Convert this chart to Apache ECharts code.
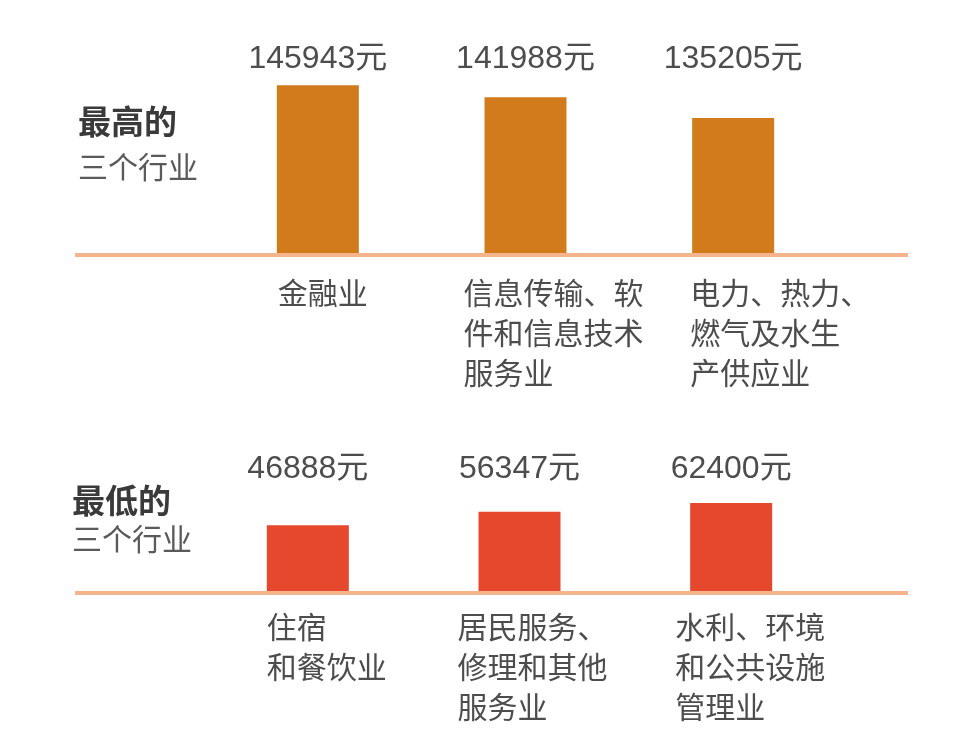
<!DOCTYPE html>
<html>
<head>
    <meta charset="utf-8">
    <title>行业平均工资</title>
    <script src="https://cdn.jsdelivr.net/npm/echarts@6/dist/echarts.min.js"></script>
    <style>
        * { margin: 0; padding: 0; }
        body { background: #fff; }
    </style>
</head>
<body>
    <div id="main" style="width: 960px; height: 732px;"></div>
    <script type="text/javascript">
        // 最高的三个行业
        var highNames = ['金融业', '信息传输、软\n件和信息技术\n服务业', '电力、热力、\n燃气及水生\n产供应业'];
        var highValues = [145943, 141988, 135205];
        // 最低的三个行业
        var lowNames = ['住宿\n和餐饮业', '居民服务、\n修理和其他\n服务业', '水利、环境\n和公共设施\n管理业'];
        var lowValues = [46888, 56347, 62400];
        var unit = '元';

        var textColor = '#4d4d4d';
        var numFont = 'Liberation Sans, Noto Sans CJK SC, sans-serif';
        var cjkFont = 'Noto Sans CJK SC, sans-serif';
        var lineColor = '#f4b58c';
        // 名称标签相对柱子的左移微调（像素）
        var highNudge = [22, 0, 19];
        var lowNudge = [21, 0, 6];

        var myChart = echarts.init(document.getElementById('main'));

        function hiddenY(grid, min, max) {
            return { type: 'value', gridIndex: grid, min: min, max: max, show: false };
        }
        function barAxis(grid, names) {
            return {
                type: 'category', gridIndex: grid, data: names, position: 'bottom',
                axisLine: { show: false }, axisTick: { show: false }, axisLabel: { show: false }
            };
        }
        function valueAxis(grid, names, values, margin) {
            return {
                type: 'category', gridIndex: grid, data: names, position: 'top',
                axisLine: { show: false }, axisTick: { show: false },
                axisLabel: {
                    margin: margin,
                    color: textColor,
                    fontSize: 32,
                    fontFamily: numFont,
                    formatter: function (v, i) { return values[i] + unit; }
                }
            };
        }
        function nameAxis(grid, names, nudge, margin) {
            return {
                type: 'category', gridIndex: grid, position: 'bottom',
                data: names.map(function (n, i) {
                    return {
                        value: n,
                        textStyle: { align: 'left', verticalAlign: 'top', padding: [0, 0, 0, nudge[i]] }
                    };
                }),
                axisLine: { show: false }, axisTick: { show: false },
                axisLabel: {
                    margin: margin,
                    align: 'left',
                    verticalAlign: 'top',
                    color: textColor,
                    fontSize: 30,
                    lineHeight: 40,
                    fontFamily: cjkFont,
                    interval: 0
                }
            };
        }

        var option = {
            backgroundColor: '#fff',
            animation: false,
            title: [
                {
                    text: '最高的', subtext: '三个行业',
                    left: 73, top: 97, itemGap: 10,
                    textStyle: { fontSize: 33, fontWeight: 'bold', color: '#3a3a3a', fontFamily: cjkFont, lineHeight: 38 },
                    subtextStyle: { fontSize: 30, color: '#5a5a5a', fontFamily: cjkFont, lineHeight: 34 }
                },
                {
                    text: '最低的', subtext: '三个行业',
                    left: 67, top: 476, itemGap: 3,
                    textStyle: { fontSize: 33, fontWeight: 'bold', color: '#3a3a3a', fontFamily: cjkFont, lineHeight: 38 },
                    subtextStyle: { fontSize: 30, color: '#5a5a5a', fontFamily: cjkFont, lineHeight: 34 }
                }
            ],
            grid: [
                { left: 214, right: 123, top: 73, bottom: 477 },
                { left: 152, right: 185, top: 73, bottom: 477 },
                { left: 202, right: 123, top: 492, bottom: 139 },
                { left: 140, right: 185, top: 492, bottom: 139 }
            ],
            xAxis: [
                barAxis(0, highNames),
                valueAxis(0, highNames, highValues, -2),
                nameAxis(1, highNames, highNudge, 18),
                barAxis(2, lowNames),
                valueAxis(2, lowNames, lowValues, 7),
                nameAxis(3, lowNames, lowNudge, 14)
            ],
            yAxis: [
                hiddenY(0, 90000, 150000),
                hiddenY(1, 0, 1),
                hiddenY(2, 0, 70000),
                hiddenY(3, 0, 1)
            ],
            series: [
                {
                    type: 'bar', xAxisIndex: 0, yAxisIndex: 0,
                    data: highValues, barWidth: 82,
                    itemStyle: { color: '#d27b1d' }, silent: true
                },
                {
                    type: 'bar', xAxisIndex: 3, yAxisIndex: 2,
                    data: lowValues, barWidth: 82,
                    itemStyle: { color: '#e5482d' }, silent: true
                }
            ],
            graphic: [
                {
                    type: 'line', z: 100,
                    shape: { x1: 75, y1: 255, x2: 908, y2: 255 },
                    style: { stroke: lineColor, lineWidth: 4 }
                },
                {
                    type: 'line', z: 100,
                    shape: { x1: 75, y1: 593, x2: 908, y2: 593 },
                    style: { stroke: lineColor, lineWidth: 4 }
                }
            ]
        };

        myChart.setOption(option);
    </script>
</body>
</html>
